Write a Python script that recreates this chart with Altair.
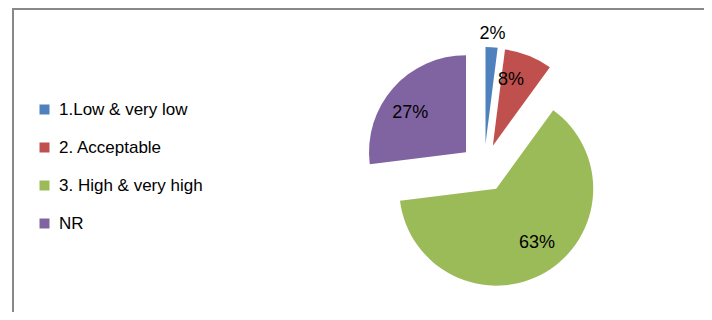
import altair as alt
import pandas as pd

categories = ["1.Low & very low", "2. Acceptable", "3. High & very high", "NR"]
values = [2, 8, 63, 27]
labels = ["2%", "8%", "63%", "27%"]
colors = ["#4F81BD", "#C0504D", "#9BBB59", "#8064A2"]

df = pd.DataFrame({"category": categories, "value": values, "label": labels,
                   "order": list(range(len(categories)))})

W, H = 696, 304
CX, CY = 476, 160      # pie centre (pixels inside the view)
R = 97                 # pie radius
EXPLODE = 24           # explosion distance

base = alt.Chart(df).transform_joinaggregate(
    total="sum(value)"
).transform_window(
    cum="sum(value)", sort=[alt.SortField("order")], frame=[None, 0]
).transform_calculate(
    start="2*PI*(datum.cum - datum.value)/datum.total",
    end="2*PI*datum.cum/datum.total",
).transform_calculate(
    mid="(datum.start + datum.end)/2",
).transform_calculate(
    px=f"{CX} + {EXPLODE}*sin(datum.mid)",
    py=f"{CY} - {EXPLODE}*cos(datum.mid)",
    small="datum.value/datum.total < 0.05",
).transform_calculate(
    la="datum.small ? datum.mid : datum.mid - 0.08",
    lr=f"datum.small ? {R + 37} : {R - 5}",
).transform_calculate(
    lx=f"{CX} + datum.lr*sin(datum.la)",
    ly=f"{CY} - datum.lr*cos(datum.la)",
)

color = alt.Color(
    "category:N",
    scale=alt.Scale(domain=categories, range=colors),
    legend=alt.Legend(
        title=None, orient="none", legendX=28, legendY=93,
        symbolType="square", symbolSize=100, symbolStrokeWidth=0,
        labelFontSize=17, labelFont="Liberation Sans", labelColor="#000000",
        rowPadding=20, labelOffset=6, labelLimit=300,
    ),
)

arcs = base.mark_arc(stroke=None).encode(
    x=alt.X("px:Q", scale=None),
    y=alt.Y("py:Q", scale=None),
    theta=alt.Theta("start:Q", scale=None),
    theta2="end:Q",
    radius=alt.value(R),
    color=color,
)

texts = base.mark_text(fontSize=18, font="Liberation Sans", color="#000000",
                       align="center", baseline="middle").encode(
    x=alt.X("lx:Q", scale=None),
    y=alt.Y("ly:Q", scale=None),
    text="label:N",
)

frame_left = alt.Chart(df).mark_rule(color="#888888", strokeWidth=2).encode(
    x=alt.value(5), y=alt.value(0), y2=alt.value(H + 10))
frame_top = alt.Chart(df).mark_rule(color="#888888", strokeWidth=2).encode(
    x=alt.value(4), x2=alt.value(W + 10), y=alt.value(1))

chart = alt.layer(frame_left, frame_top, arcs, texts).properties(
    width=W, height=H, autosize=alt.AutoSizeParams(type="none"), padding=0
).configure_view(stroke=None)

chart.save("out.html", embed_options={"renderer": "svg", "actions": False})
